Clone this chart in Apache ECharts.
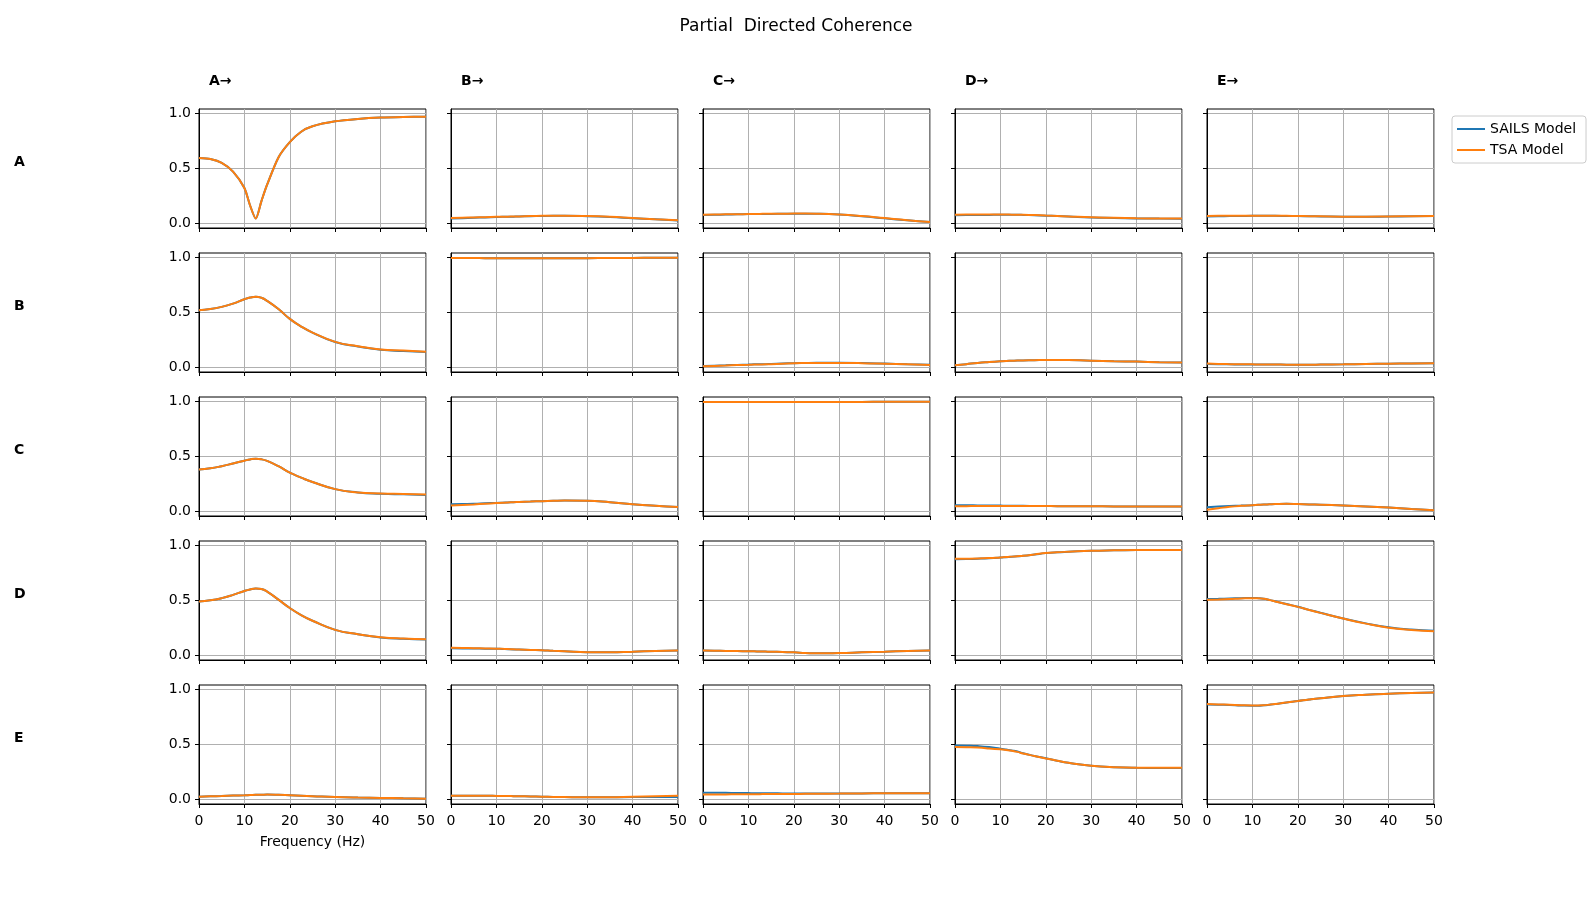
<!DOCTYPE html>
<html>
<head>
<meta charset="utf-8">
<title>Partial Directed Coherence</title>
<script src="https://cdn.jsdelivr.net/npm/echarts@6/dist/echarts.min.js"></script>
<style>
  html, body { margin: 0; padding: 0; background: #fff; }
  #chart { width: 1592px; height: 905px; }
</style>
</head>
<body>
<div id="chart"></div>
<script>
// frequency axis (Hz)
var freqs = [0, 2.5, 5, 7.5, 10, 11.25, 12.5, 13.75, 15, 17.5, 20, 22.5, 25, 30, 35, 40, 45, 50];
var nodeNames = ['A', 'B', 'C', 'D', 'E'];
var modelNames = ['SAILS Model', 'TSA Model'];

// TSA model, one array per row (target), columns = source A..E
var tsaA = [
  [0.595,0.585,0.55,0.47,0.32,0.16,0.04,0.2,0.35,0.6,0.74,0.835,0.885,0.93,0.952,0.965,0.97,0.972],
  [0.045,0.048,0.05,0.053,0.056,0.057,0.058,0.059,0.06,0.063,0.065,0.066,0.066,0.063,0.056,0.045,0.034,0.024],
  [0.075,0.077,0.079,0.08,0.082,0.083,0.083,0.084,0.084,0.085,0.086,0.086,0.085,0.078,0.064,0.045,0.026,0.01],
  [0.076,0.077,0.077,0.077,0.077,0.077,0.076,0.076,0.075,0.072,0.068,0.064,0.06,0.052,0.047,0.043,0.041,0.04],
  [0.064,0.065,0.066,0.067,0.067,0.067,0.067,0.067,0.066,0.065,0.064,0.062,0.061,0.058,0.058,0.06,0.062,0.064]
];
var tsaB = [
  [0.52,0.53,0.55,0.58,0.62,0.635,0.643,0.633,0.605,0.53,0.44,0.37,0.315,0.23,0.19,0.16,0.15,0.14],
  [0.997,0.997,0.997,0.996,0.996,0.996,0.996,0.996,0.996,0.996,0.996,0.996,0.996,0.996,0.997,0.998,0.999,1.0],
  [0.006,0.01,0.013,0.017,0.02,0.022,0.023,0.024,0.026,0.03,0.034,0.036,0.037,0.037,0.035,0.03,0.024,0.018],
  [0.015,0.026,0.037,0.045,0.052,0.055,0.057,0.059,0.06,0.062,0.064,0.064,0.063,0.058,0.053,0.049,0.044,0.04],
  [0.032,0.028,0.026,0.025,0.024,0.023,0.023,0.022,0.022,0.021,0.021,0.021,0.022,0.024,0.027,0.03,0.032,0.034]
];
var tsaC = [
  [0.38,0.39,0.41,0.435,0.46,0.472,0.478,0.473,0.458,0.41,0.35,0.305,0.265,0.2,0.17,0.16,0.155,0.15],
  [0.05,0.055,0.06,0.066,0.072,0.075,0.078,0.08,0.082,0.086,0.09,0.093,0.095,0.093,0.08,0.062,0.048,0.037],
  [0.998,0.998,0.998,0.998,0.998,0.998,0.998,0.998,0.998,0.998,0.998,0.998,0.998,0.998,0.998,0.999,0.999,1.0],
  [0.043,0.044,0.045,0.045,0.045,0.045,0.045,0.045,0.045,0.045,0.045,0.044,0.044,0.043,0.042,0.041,0.04,0.04],
  [0.012,0.025,0.038,0.047,0.053,0.056,0.059,0.061,0.063,0.065,0.063,0.06,0.057,0.05,0.041,0.031,0.019,0.006]
];
var tsaD = [
  [0.49,0.5,0.52,0.55,0.586,0.6,0.608,0.603,0.58,0.506,0.43,0.365,0.313,0.23,0.19,0.163,0.15,0.144],
  [0.067,0.064,0.062,0.06,0.058,0.056,0.054,0.052,0.05,0.046,0.043,0.038,0.034,0.026,0.025,0.03,0.036,0.04],
  [0.04,0.039,0.037,0.036,0.034,0.033,0.032,0.031,0.03,0.027,0.024,0.019,0.015,0.018,0.024,0.03,0.036,0.04],
  [0.88,0.881,0.883,0.887,0.893,0.896,0.9,0.904,0.908,0.92,0.933,0.94,0.945,0.954,0.958,0.96,0.96,0.96],
  [0.505,0.508,0.512,0.517,0.52,0.519,0.514,0.503,0.49,0.465,0.44,0.412,0.385,0.333,0.287,0.25,0.229,0.217]
];
var tsaE = [
  [0.021,0.024,0.027,0.031,0.034,0.036,0.038,0.039,0.04,0.038,0.034,0.03,0.026,0.018,0.013,0.01,0.006,0.003],
  [0.03,0.03,0.029,0.029,0.028,0.027,0.027,0.026,0.025,0.023,0.021,0.019,0.017,0.015,0.016,0.021,0.026,0.03],
  [0.04,0.041,0.042,0.043,0.044,0.044,0.044,0.045,0.045,0.045,0.046,0.047,0.048,0.049,0.051,0.052,0.052,0.052],
  [0.475,0.473,0.47,0.463,0.454,0.448,0.441,0.431,0.416,0.393,0.371,0.35,0.331,0.304,0.29,0.285,0.285,0.285],
  [0.868,0.865,0.862,0.858,0.856,0.856,0.858,0.863,0.869,0.883,0.896,0.91,0.922,0.942,0.954,0.963,0.97,0.975]
];

// SAILS model, same layout
var sailsA = [
  [0.595,0.585,0.55,0.47,0.32,0.16,0.04,0.2,0.35,0.6,0.74,0.835,0.885,0.93,0.952,0.965,0.97,0.972],
  [0.04,0.043,0.047,0.051,0.054,0.056,0.057,0.058,0.059,0.062,0.064,0.065,0.065,0.062,0.055,0.044,0.033,0.022],
  [0.072,0.075,0.077,0.079,0.081,0.082,0.082,0.083,0.083,0.084,0.085,0.085,0.084,0.077,0.062,0.043,0.024,0.008],
  [0.07,0.072,0.073,0.074,0.075,0.075,0.075,0.075,0.074,0.071,0.067,0.063,0.059,0.051,0.046,0.042,0.04,0.039],
  [0.06,0.062,0.063,0.064,0.065,0.065,0.065,0.065,0.065,0.064,0.063,0.061,0.06,0.057,0.057,0.059,0.061,0.063]
];
var sailsB = [
  [0.52,0.53,0.55,0.58,0.62,0.635,0.643,0.633,0.605,0.53,0.44,0.37,0.315,0.228,0.187,0.158,0.146,0.137],
  [0.997,0.997,0.997,0.996,0.996,0.996,0.996,0.996,0.996,0.996,0.996,0.996,0.996,0.996,0.997,0.998,0.999,1.0],
  [0.008,0.012,0.015,0.019,0.022,0.024,0.025,0.026,0.028,0.032,0.035,0.037,0.038,0.038,0.036,0.031,0.025,0.02],
  [0.015,0.026,0.037,0.045,0.052,0.055,0.057,0.059,0.06,0.062,0.064,0.064,0.063,0.058,0.053,0.049,0.044,0.04],
  [0.027,0.025,0.024,0.023,0.023,0.022,0.022,0.022,0.022,0.021,0.021,0.021,0.022,0.024,0.027,0.03,0.032,0.034]
];
var sailsC = [
  [0.38,0.39,0.41,0.435,0.46,0.472,0.478,0.473,0.458,0.41,0.35,0.305,0.265,0.2,0.17,0.158,0.152,0.147],
  [0.062,0.064,0.066,0.07,0.074,0.076,0.078,0.08,0.082,0.086,0.09,0.093,0.095,0.093,0.08,0.062,0.048,0.037],
  [0.998,0.998,0.998,0.998,0.998,0.998,0.998,0.998,0.998,0.998,0.998,0.998,0.998,0.998,0.998,0.999,0.999,1.0],
  [0.052,0.052,0.051,0.05,0.049,0.048,0.048,0.047,0.047,0.046,0.045,0.044,0.044,0.043,0.042,0.041,0.04,0.04],
  [0.034,0.04,0.045,0.049,0.053,0.056,0.059,0.061,0.063,0.065,0.063,0.06,0.057,0.05,0.041,0.031,0.019,0.006]
];
var sailsD = [
  [0.49,0.5,0.52,0.55,0.586,0.6,0.608,0.603,0.58,0.506,0.43,0.365,0.313,0.23,0.19,0.161,0.148,0.142],
  [0.061,0.06,0.059,0.058,0.057,0.055,0.053,0.051,0.05,0.046,0.043,0.038,0.034,0.026,0.025,0.03,0.036,0.04],
  [0.04,0.039,0.037,0.036,0.034,0.033,0.032,0.031,0.03,0.027,0.024,0.019,0.015,0.018,0.024,0.03,0.036,0.04],
  [0.876,0.878,0.881,0.885,0.891,0.895,0.899,0.903,0.907,0.919,0.932,0.94,0.945,0.954,0.958,0.96,0.961,0.961],
  [0.512,0.514,0.517,0.52,0.522,0.52,0.515,0.504,0.491,0.466,0.441,0.413,0.386,0.334,0.289,0.253,0.232,0.221]
];
var sailsE = [
  [0.021,0.024,0.027,0.031,0.034,0.036,0.038,0.039,0.04,0.038,0.034,0.03,0.026,0.018,0.013,0.01,0.006,0.003],
  [0.03,0.03,0.029,0.029,0.028,0.027,0.027,0.026,0.025,0.023,0.021,0.019,0.017,0.015,0.015,0.017,0.018,0.018],
  [0.058,0.057,0.056,0.055,0.054,0.053,0.053,0.052,0.052,0.051,0.05,0.05,0.05,0.05,0.051,0.052,0.052,0.052],
  [0.49,0.488,0.484,0.475,0.46,0.452,0.444,0.434,0.418,0.394,0.372,0.35,0.331,0.304,0.29,0.285,0.284,0.284],
  [0.865,0.862,0.86,0.856,0.854,0.854,0.857,0.862,0.868,0.883,0.896,0.91,0.922,0.942,0.954,0.963,0.97,0.975]
];

var tsaRows = [tsaA, tsaB, tsaC, tsaD, tsaE];
var sailsRows = [sailsA, sailsB, sailsC, sailsD, sailsE];
var yTicks = [0, 0.5, 1.0];

function pairs(xs, ys) {
  var out = [];
  for (var i = 0; i < xs.length; i++) out.push([xs[i], ys[i]]);
  return out;
}

var chart = echarts.init(document.getElementById('chart'));
var FONT = 'DejaVu Sans';

// panel layout (px)
var colLeft = [199, 451, 703, 955, 1207];
var rowTop = [109, 253, 397, 541, 685];
var panelW = 227, panelH = 119;

var grids = [], xAxes = [], yAxes = [], series = [], graphics = [];

for (var r = 0; r < 5; r++) {
  for (var c = 0; c < 5; c++) {
    var k = r * 5 + c;
    // the A->A dip is sharp, keep it less rounded
    var sm = (r === 0 && c === 0) ? 0.25 : 0.5;
    grids.push({
      left: colLeft[c], top: rowTop[r], width: panelW, height: panelH,
      show: true, borderColor: '#000', borderWidth: 1, backgroundColor: 'transparent'
    });
    xAxes.push({
      type: 'value', gridIndex: k, min: 0, max: 50, interval: 10,
      axisLine: { show: true, onZero: false, lineStyle: { color: '#000', width: 1 } },
      axisTick: { show: true, length: 4, lineStyle: { color: '#000' } },
      axisLabel: { show: r === 4, color: '#000', fontSize: 14, fontFamily: FONT, margin: 10 },
      splitLine: { show: true, lineStyle: { color: '#b0b0b0', width: 1 } },
      name: (r === 4 && c === 0) ? 'Frequency (Hz)' : '',
      nameLocation: 'middle', nameGap: 31,
      nameTextStyle: { color: '#000', fontSize: 14, fontFamily: FONT }
    });
    yAxes.push({
      type: 'value', gridIndex: k, min: -0.046, max: 1.043,
      axisLine: { show: true, lineStyle: { color: '#000', width: 1 } },
      axisTick: { show: true, length: 4, customValues: yTicks, lineStyle: { color: '#000' } },
      axisLabel: {
        show: c === 0, customValues: yTicks, color: '#000', fontSize: 14, fontFamily: FONT, margin: 8,
        formatter: function (v) { return v.toFixed(1); }
      },
      splitLine: { show: true, lineStyle: { color: '#b0b0b0', width: 1 } }
    });
    series.push({
      name: modelNames[0], type: 'line', xAxisIndex: k, yAxisIndex: k,
      data: pairs(freqs, sailsRows[r][c]),
      showSymbol: false, symbol: 'none', smooth: sm,
      lineStyle: { color: '#1f77b4', width: 2 }, itemStyle: { color: '#1f77b4' }
    });
    series.push({
      name: modelNames[1], type: 'line', xAxisIndex: k, yAxisIndex: k,
      data: pairs(freqs, tsaRows[r][c]),
      showSymbol: false, symbol: 'none', smooth: sm,
      lineStyle: { color: '#ff7f0e', width: 2 }, itemStyle: { color: '#ff7f0e' }
    });
  }
}

// row labels and column titles
for (var i = 0; i < 5; i++) {
  graphics.push({
    type: 'text', left: 14, top: rowTop[i] + 46,
    style: { text: nodeNames[i], fill: '#000', font: 'bold 14px "DejaVu Sans"' }
  });
  graphics.push({
    type: 'text', left: colLeft[i] + 10, top: 74,
    style: { text: nodeNames[i] + '\u2192', fill: '#000', font: 'bold 14px "DejaVu Sans"' }
  });
}

chart.setOption({
  animation: false,
  backgroundColor: '#fff',
  title: {
    text: 'Partial  Directed Coherence', left: 'center', top: 13,
    textStyle: { color: '#000', fontSize: 17, fontWeight: 'normal', fontFamily: FONT }
  },
  legend: {
    data: modelNames, orient: 'vertical', left: 1452, top: 116,
    icon: 'rect', itemWidth: 28, itemHeight: 2, itemGap: 7,
    padding: [6, 10, 6, 5],
    backgroundColor: '#fff', borderColor: '#cccccc', borderWidth: 1, borderRadius: 3,
    textStyle: { color: '#000', fontSize: 14, fontFamily: FONT }
  },
  grid: grids,
  xAxis: xAxes,
  yAxis: yAxes,
  series: series,
  graphic: graphics
});
</script>
</body>
</html>
